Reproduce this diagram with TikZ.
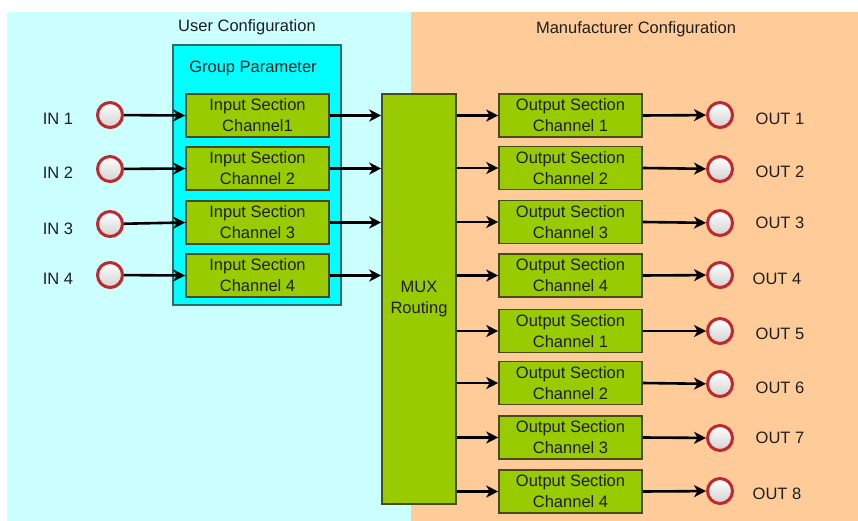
\documentclass[tikz,border=0pt]{standalone}
\usepackage{fontspec}
\setmainfont{Liberation Sans}
\usetikzlibrary{arrows.meta,shadows}
\definecolor{ucbg}{HTML}{CCFFFF}
\definecolor{mcbg}{HTML}{FFCC99}
\definecolor{grpfill}{HTML}{00FFFF}
\definecolor{grpline}{HTML}{2F6B6B}
\definecolor{boxfill}{HTML}{99CC00}
\definecolor{boxline}{HTML}{4A4A20}
\definecolor{ringred}{HTML}{C0282D}
\definecolor{txt}{HTML}{1E1E1E}
\tikzset{
  lbl/.style={text=txt, font=\fontsize{16.5}{19}\selectfont, inner sep=0},
  sectbox/.style={draw=boxline, fill=boxfill, line width=1.6pt, minimum width=143, minimum height=43,
    inner sep=0, align=center, text=txt, font=\fontsize{16.5}{21}\selectfont},
  muxbox/.style={draw=boxline, fill=boxfill, line width=1.6pt, minimum width=74, minimum height=410,
    inner sep=0, align=center, text=txt, font=\fontsize{16.5}{21}\selectfont},
  grpbox/.style={draw=grpline, fill=grpfill, line width=1.6pt, minimum width=168, minimum height=260, inner sep=0},
  port/.style={circle, draw=ringred, line width=3pt, minimum size=25, inner sep=0,
    top color=white, bottom color=black!18,
    drop shadow={shadow xshift=1.5pt, shadow yshift=-1.5pt, opacity=0.25}},
  conn/.style={line width=2.6pt, -{Stealth[length=12pt,width=12pt,inset=3.5pt]}}
}
\begin{document}
\begin{tikzpicture}[x=1pt,y=-1pt]
\useasboundingbox (0,0) rectangle (858,521);
\fill[ucbg] (7,12) rectangle (411,521);
\fill[mcbg] (411,12) rectangle (858,521);
\node[lbl] (uc) at (247,27) {User Configuration};
\node[lbl] (mc) at (636,29) {Manufacturer Configuration};
\node[grpbox] (grp) at (257,175) {};
\node[lbl] (gp) at (253,68) {Group Parameter};
\node[muxbox] (mux) at (419,299) {MUX\\Routing};

% inputs
\foreach \i/\by/\cy/\ly/\ch in {1/115.5/115/119/Channel1, 2/168.5/169/173/Channel 2, 3/222.5/224/229/Channel 3, 4/275.5/275/279/Channel 4}{
  \node[sectbox] (in\i) at (257.5,\by) {Input Section\\\ch};
  \node[port] (ic\i) at (110,\cy) {};
  \node[lbl] (il\i) at (58,\ly) {IN \i};
  \draw[conn] (ic\i) -- (in\i.west);
  \draw[conn] (in\i.east) -- (in\i.east -| mux.west);
}

% outputs
\foreach \i/\by/\cy/\lx/\ly/\ch in {1/115.5/115/780/119/1, 2/168/169/780/172/2, 3/222/223/780/223/3, 4/275.5/275/777/279/4, 5/331/331/780/334/1, 6/383/384/780/388/2, 7/437.5/438/780/438/3, 8/491.5/491/777/494/4}{
  \node[sectbox] (out\i) at (570.5,\by) {Output Section\\Channel \ch};
  \node[port] (oc\i) at (720,\cy) {};
  \node[lbl] (ol\i) at (\lx,\ly) {OUT \i};
  \draw[conn] (out\i.west -| mux.east) -- (out\i.west);
  \draw[conn] (out\i.east) -- (oc\i);
}
\end{tikzpicture}
\end{document}
